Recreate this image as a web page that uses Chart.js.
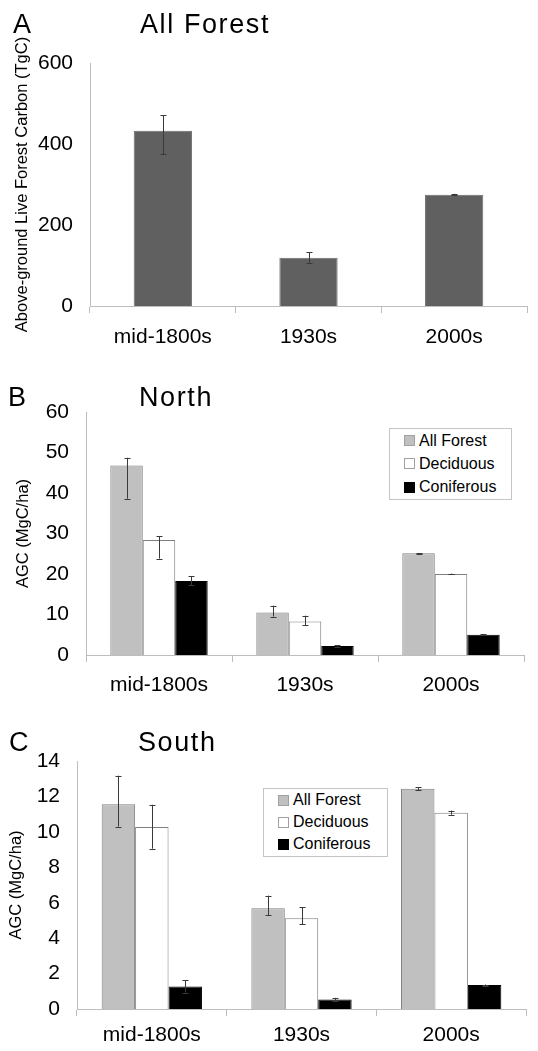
<!DOCTYPE html>
<html>
<head>
<meta charset="utf-8">
<script src="https://cdn.jsdelivr.net/npm/chart.js@4"></script>
<style>
  body { margin: 0; background: #fff; }
  #fig { position: relative; width: 538px; height: 1051px; font-family: "Liberation Sans", Arial, sans-serif; }
  .panel { position: absolute; left: 0; width: 538px; }
  .panel canvas { position: absolute; left: 0; top: 0; }
  .letter, .title { position: absolute; font-size: 27px; line-height: 27px; color: #000; white-space: nowrap; }
  .title { letter-spacing: 1.6px; }
  .legend { position: absolute; border: 1px solid #c4c4c4; background: #fff; font-size: 16px; }
  .legend .row { display: flex; align-items: center; padding-left: 14px; padding-right: 8px; }
  .legend .sw { width: 11px; height: 11px; margin-right: 4px; box-sizing: border-box; }
</style>
</head>
<body>
<div id="fig">
  <div class="panel" style="top:0;height:350px">
    <canvas id="chart-a" width="538" height="350"></canvas>
    <div class="letter" style="left:13px;top:11px">A</div>
    <div class="title" style="left:140px;top:11px">All Forest</div>
  </div>
  <div class="panel" style="top:350px;height:350px">
    <canvas id="chart-b" width="538" height="350"></canvas>
    <div class="letter" style="left:8px;top:34px">B</div>
    <div class="title" style="left:139px;top:34px">North</div>
    <div class="legend" id="legend-b" style="left:389px;top:78px;width:121px"></div>
  </div>
  <div class="panel" style="top:700px;height:351px">
    <canvas id="chart-c" width="538" height="351"></canvas>
    <div class="letter" style="left:9px;top:29px">C</div>
    <div class="title" style="left:138px;top:29px">South</div>
    <div class="legend" id="legend-c" style="left:263px;top:88px;width:123px"></div>
  </div>
</div>
<script>
// data
const periods = ["mid-1800s", "1930s", "2000s"];

// A: all forest, TgC
const totalCarbon = [433, 119, 275];
const totalLow = [375, 106, 273];
const totalHigh = [471, 133, 277];

// B: North, MgC/ha
const northAll = [46.8, 10.5, 25.1];
const northAllLow = [38.6, 9.5, 24.9];
const northAllHigh = [48.7, 12.2, 25.2];
const northDecid = [28.4, 8.3, 20.0];
const northDecidLow = [23.8, 7.4, 19.9];
const northDecidHigh = [29.3, 9.7, 20.1];
const northConif = [18.3, 2.2, 5.0];
const northConifLow = [17.2, 2.0, 4.9];
const northConifHigh = [19.4, 2.4, 5.1];

// C: South, MgC/ha
const southAll = [11.56, 5.69, 12.43];
const southAllLow = [10.3, 5.3, 12.34];
const southAllHigh = [13.17, 6.4, 12.53];
const southDecid = [10.28, 5.13, 11.08];
const southDecidLow = [9.05, 4.79, 10.97];
const southDecidHigh = [11.53, 5.73, 11.2];
const southConif = [1.27, 0.54, 1.35];
const southConifLow = [0.93, 0.45, 1.32];
const southConifHigh = [1.61, 0.63, 1.38];

const seriesNames = ["All Forest", "Deciduous", "Coniferous"];
const seriesFill = ["#c0c0c0", "#ffffff", "#000000"];
const seriesEdge = ["#7f7f7f", "#7f7f7f", "#000000"];

Chart.defaults.font.family = "'Liberation Sans', Arial, sans-serif";
Chart.defaults.color = "#000";
Chart.defaults.animation = false;

const errorBars = {
  id: "errorBars",
  afterDatasetsDraw(chart) {
    const { ctx, scales: { y } } = chart;
    ctx.save();
    ctx.strokeStyle = "#3a3a3a";
    ctx.lineWidth = 1;
    chart.data.datasets.forEach((ds, i) => {
      if (!ds.errLow) return;
      chart.getDatasetMeta(i).data.forEach((bar, j) => {
        const x = Math.round(bar.x) + 0.5;
        const lo = y.getPixelForValue(ds.errLow[j]);
        const hi = y.getPixelForValue(ds.errHigh[j]);
        ctx.beginPath();
        ctx.moveTo(x, lo); ctx.lineTo(x, hi);
        ctx.moveTo(x - 3, Math.round(lo) + 0.5); ctx.lineTo(x + 3, Math.round(lo) + 0.5);
        ctx.moveTo(x - 3, Math.round(hi) + 0.5); ctx.lineTo(x + 3, Math.round(hi) + 0.5);
        ctx.stroke();
      });
    });
    ctx.restore();
  },
};

function makePanel(id, datasets, opts) {
  return new Chart(document.getElementById(id), {
    type: "bar",
    data: { labels: periods, datasets },
    plugins: [errorBars],
    options: {
      responsive: false,
      layout: { padding: { top: opts.top, right: opts.right, bottom: 0, left: 0 } },
      plugins: { legend: { display: false }, tooltip: { enabled: false } },
      datasets: { bar: { categoryPercentage: opts.cat, barPercentage: 1 } },
      scales: {
        x: {
          grid: { display: true, drawOnChartArea: false, offset: true, tickLength: 7, color: "#bdbdbd" },
          border: { color: "#bdbdbd" },
          ticks: { font: { size: 21 }, padding: opts.xPad, color: "#000" },
          afterFit(s) { s.height = opts.xHeight; },
        },
        y: {
          min: 0, max: opts.max,
          grid: { display: false, drawTicks: false },
          border: { color: "#bdbdbd" },
          ticks: { stepSize: opts.step, font: { size: 21 }, padding: 17, color: "#000" },
          title: { display: true, text: opts.yTitle, font: { size: 16.5 }, padding: { top: opts.titlePad, bottom: 0 } },
          afterFit(s) { s.width = opts.left; },
        },
      },
    },
  });
}

function groupSets(values, lows, highs) {
  return seriesNames.map((name, k) => ({
    label: name,
    data: values[k],
    errLow: lows[k],
    errHigh: highs[k],
    backgroundColor: seriesFill[k],
    borderColor: seriesEdge[k],
    borderWidth: 1,
  }));
}

function buildLegend(id, rowHeight) {
  const el = document.getElementById(id);
  el.innerHTML = seriesNames.map((name, k) =>
    `<div class="row" style="height:${rowHeight}px"><span class="sw" style="background:${seriesFill[k]};border:1px solid ${k === 2 ? "#000" : "#a0a0a0"}"></span>${name}</div>`
  ).join("");
}

makePanel("chart-a", [{
  label: "All Forest",
  data: totalCarbon,
  errLow: totalLow,
  errHigh: totalHigh,
  backgroundColor: "#606060",
  borderColor: "#6c6c6c",
  borderWidth: 1,
}], { top: 63, right: 11, xHeight: 44, left: 90, max: 600, step: 200, cat: 0.4, xPad: 11.5, titlePad: 13,
      yTitle: "Above-ground Live Forest Carbon (TgC)" });

makePanel("chart-b", groupSets(
  [northAll, northDecid, northConif],
  [northAllLow, northDecidLow, northConifLow],
  [northAllHigh, northDecidHigh, northConifHigh]
), { top: 62, right: 14, xHeight: 45, left: 86, max: 60, step: 10, cat: 0.667, xPad: 10.5, titlePad: 14,
     yTitle: "AGC (MgC/ha)" });

makePanel("chart-c", groupSets(
  [southAll, southDecid, southConif],
  [southAllLow, southDecidLow, southConifLow],
  [southAllHigh, southDecidHigh, southConifHigh]
), { top: 61, right: 12, xHeight: 42, left: 77, max: 14, step: 2, cat: 0.67, xPad: 7, titlePad: 7,
     yTitle: "AGC (MgC/ha)" });

buildLegend("legend-b", 23.3);
buildLegend("legend-c", 22.2);
</script>
</body>
</html>
